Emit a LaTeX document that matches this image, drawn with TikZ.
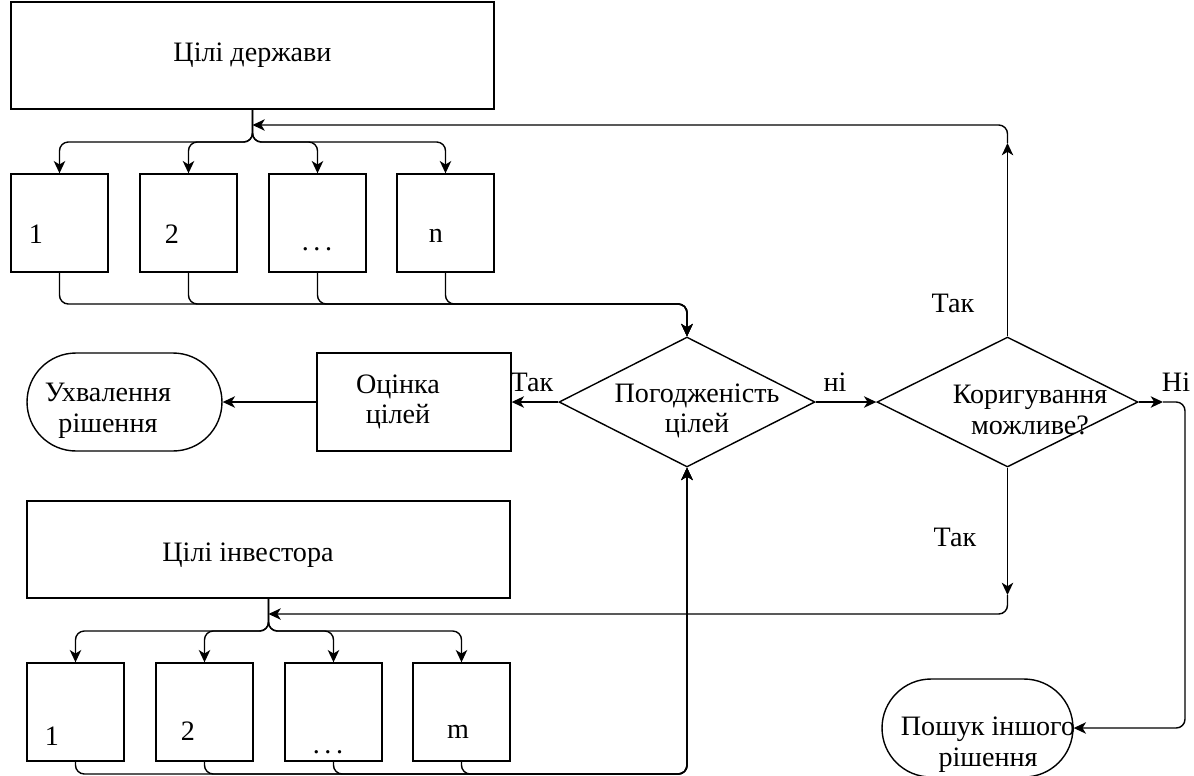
\documentclass[tikz,border=0pt]{standalone}
\usepackage{fontspec}
\setmainfont{Liberation Serif}
\usetikzlibrary{arrows.meta,shapes.geometric,shapes.misc}
\tikzset{
	box/.style={draw, rectangle, line width=0.8pt, inner sep=0pt},
	goal/.style={box, minimum width=9.66cm, minimum height=1.94cm},
	part/.style={box, minimum width=1.94cm, minimum height=1.96cm},
	term/.style={draw, rounded rectangle, line width=0.8pt, minimum width=3.9cm, minimum height=1.96cm, inner sep=0pt},
	decide/.style={draw, diamond, line width=0.8pt, minimum width=5.12cm, minimum height=2.6cm, inner sep=0pt},
	txt/.style={align=center, inner sep=0pt},
	arr/.style={line width=0.8pt, rounded corners=5pt, -{Stealth[length=7pt,width=6.5pt,inset=2pt]}},
}

\begin{document}
\begin{tikzpicture}[x=0.02cm, y=-0.02cm, font=\fontsize{16}{17.5}\selectfont]
		%%%%% START %%%%%
		\useasboundingbox (0,0) rectangle (1194,775);
		
		% goals of the state
		\node[goal, minimum height=2.14cm] (state) at (252.5,55.5) {Цілі держави};
		\node[part] (s1) at (59.5,223) {};
		\node[part] (s2) at (188.5,223) {};
		\node[part] (s3) at (317.5,223) {};
		\node[part] (s4) at (445.5,223) {};
		\node[anchor=base] (s1t) at (36,243) {1};
		\node[anchor=base] (s2t) at (172,243) {2};
		\node[anchor=base] (s3t) at (317,250) {.\,.\,.};
		\node[anchor=base] (s4t) at (436,242) {n};
		
		% goals of the investor
		\node[goal] (inv) at (268.5,549.5) {};
		\node[txt] (invt) at (248,555) {Цілі інвестора};
		\node[part] (t1) at (75.5,712) {};
		\node[part] (t2) at (204.5,712) {};
		\node[part] (t3) at (333.5,712) {};
		\node[part] (t4) at (461.5,712) {};
		\node[anchor=base] (t1t) at (52,745) {1};
		\node[anchor=base] (t2t) at (188,740) {2};
		\node[anchor=base] (t3t) at (328,753) {.\,.\,.};
		\node[anchor=base] (t4t) at (458,738) {m};
		
		% middle row
		\node[term] (accept) at (124.5,402) {};
		\node[txt] (acceptt) at (108,411) {Ухвалення\\рішення};
		\node[box, minimum width=3.88cm, minimum height=1.96cm] (eval) at (414,402) {};
		\node[txt] (evalt) at (398,402) {Оцінка\\цілей};
		\node[decide] (agree) at (687,402) {};
		\node[txt] (agreet) at (697,411) {Погодженість\\цілей};
		\node[decide, minimum width=5.22cm] (fix) at (1007.5,402) {};
		\node[txt] (fixt) at (1030,410) {Коригування\\можливе?};
		\node[term, minimum width=3.82cm] (search) at (977.5,728) {};
		\node[txt] (searcht) at (988,745) {Пошук іншого\\рішення};
		
		% fork points
		\coordinate (forkA) at (252.5,142);
		\coordinate (inA) at (252.5,125);
		\coordinate (joinA) at (687,304);
		\coordinate (forkB) at (268.5,631);
		\coordinate (inB) at (268.5,614);
		\coordinate (joinB) at (687,774);
		\coordinate (upTip) at (1007.5,143);
		\coordinate (dnTip) at (1007.5,595);
		\coordinate (noTip) at (1163,402);
		\coordinate (noTurn) at (1185,402);
		
		\draw[arr] (state.south) -- (forkA) -| (s1.north);
		\draw[arr] (state.south) -- (forkA) -| (s2.north);
		\draw[arr] (state.south) -- (forkA) -| (s3.north);
		\draw[arr] (state.south) -- (forkA) -| (s4.north);
		\draw[arr] (s1.south) |- (joinA) -- (agree.north);
		\draw[arr] (s2.south) |- (joinA) -- (agree.north);
		\draw[arr] (s3.south) |- (joinA) -- (agree.north);
		\draw[arr] (s4.south) |- (joinA) -- (agree.north);
		
		\draw[arr] (inv.south) -- (forkB) -| (t1.north);
		\draw[arr] (inv.south) -- (forkB) -| (t2.north);
		\draw[arr] (inv.south) -- (forkB) -| (t3.north);
		\draw[arr] (inv.south) -- (forkB) -| (t4.north);
		\draw[arr] (t1.south) |- (joinB) -- (agree.south);
		\draw[arr] (t2.south) |- (joinB) -- (agree.south);
		\draw[arr] (t3.south) |- (joinB) -- (agree.south);
		\draw[arr] (t4.south) |- (joinB) -- (agree.south);
		
		\draw[arr] (agree.west) -- (eval.east);
		\draw[arr] (eval.west) -- (accept.east);
		\draw[arr] (agree.east) -- (fix.west);
		\draw[arr] (fix.north) -- (upTip);
		\draw[arr] (upTip) |- (inA);
		\draw[arr] (fix.south) -- (dnTip);
		\draw[arr] (dnTip) |- (inB);
		\draw[arr] (fix.east) -- (noTip);
		\draw[arr] (noTip) -- (noTurn) |- (search.east);
		
		\node (yesA) at (532,382) {Так};
		\node (noA) at (835,382) {ні};
		\node (yesB) at (953,303) {Так};
		\node (yesC) at (955,537) {Так};
		\node (noB) at (1176,382) {Ні};
		
		%%%%% END %%%%%
	\end{tikzpicture}
\end{document}
